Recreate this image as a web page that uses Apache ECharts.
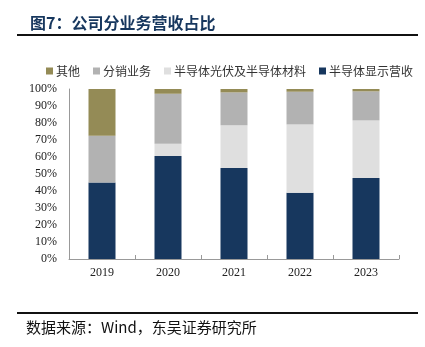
<!DOCTYPE html>
<html>
<head>
<meta charset="utf-8">
<script src="https://cdn.jsdelivr.net/npm/echarts@6/dist/echarts.min.js"></script>
<style>
html,body{margin:0;padding:0;background:#fff;}
#c{width:425px;height:347px;}
</style>
</head>
<body>
<div id="c"></div>
<script>
const categories = ['2019', '2020', '2021', '2022', '2023'];
const displayRevenue = [45.0, 60.6, 53.5, 39.0, 47.6];
const pvMaterials = [0, 7.2, 25.1, 40.2, 33.9];
const distribution = [27.5, 29.4, 19.4, 19.2, 17.1];
const others = [27.5, 2.8, 2.0, 1.6, 1.4];
const seriesNames = ['半导体显示营收', '半导体光伏及半导体材料', '分销业务', '其他'];
const legendOrder = ['其他', '分销业务', '半导体光伏及半导体材料', '半导体显示营收'];
const titleText = '图7：公司分业务营收占比';
const sourceText = '数据来源：Wind，东吴证券研究所';

const colors = ['#17375e', '#dfdfdf', '#b2b2b2', '#948b56'];
const dataSets = [displayRevenue, pvMaterials, distribution, others];

const chart = echarts.init(document.getElementById('c'), null, {renderer: 'canvas'});
const cjk = '"Noto Sans CJK SC", sans-serif';
const serif = '"Liberation Serif", "DejaVu Serif", serif';

chart.setOption({
  animation: false,
  backgroundColor: '#fff',
  title: {
    text: titleText,
    left: 25, top: 10,
    textStyle: {fontFamily: cjk, fontSize: 16, fontWeight: 'bold', color: '#17375e'}
  },
  legend: {
    data: legendOrder,
    left: 41, top: 60,
    itemWidth: 7, itemHeight: 7, itemGap: 13,
    icon: 'rect',
    textStyle: {fontFamily: cjk, fontSize: 12, color: '#333', padding: [0,0,0,-2]}
  },
  grid: {left: 69, right: 26, top: 89, bottom: 88},
  xAxis: {
    type: 'category',
    data: categories,
    axisLine: {lineStyle: {color: '#999', width: 1}},
    axisTick: {show: true, inside: true, length: 4, lineStyle: {color: '#999'}},
    axisLabel: {fontFamily: serif, fontSize: 12, color: '#222', margin: 8}
  },
  yAxis: {
    type: 'value',
    min: 0, max: 100, interval: 10,
    axisLine: {show: true, lineStyle: {color: '#999', width: 1}},
    axisTick: {show: false},
    splitLine: {show: false},
    axisLabel: {fontFamily: serif, fontSize: 12, color: '#222', margin: 12, formatter: '{value}%'}
  },
  series: seriesNames.map((n, i) => ({
    name: n,
    type: 'bar',
    stack: 'total',
    barWidth: 27,
    data: dataSets[i],
    itemStyle: {color: colors[i]}
  })),
  graphic: [
    {type: 'line', shape: {x1: 17, y1: 35, x2: 418, y2: 35}, style: {stroke: '#111', lineWidth: 2}},
    {type: 'line', shape: {x1: 17, y1: 313, x2: 418, y2: 313}, style: {stroke: '#111', lineWidth: 2}},
    {type: 'text', left: 26, top: 320, style: {text: sourceText, font: '15px ' + cjk, fill: '#111'}}
  ]
});
</script>
</body>
</html>
